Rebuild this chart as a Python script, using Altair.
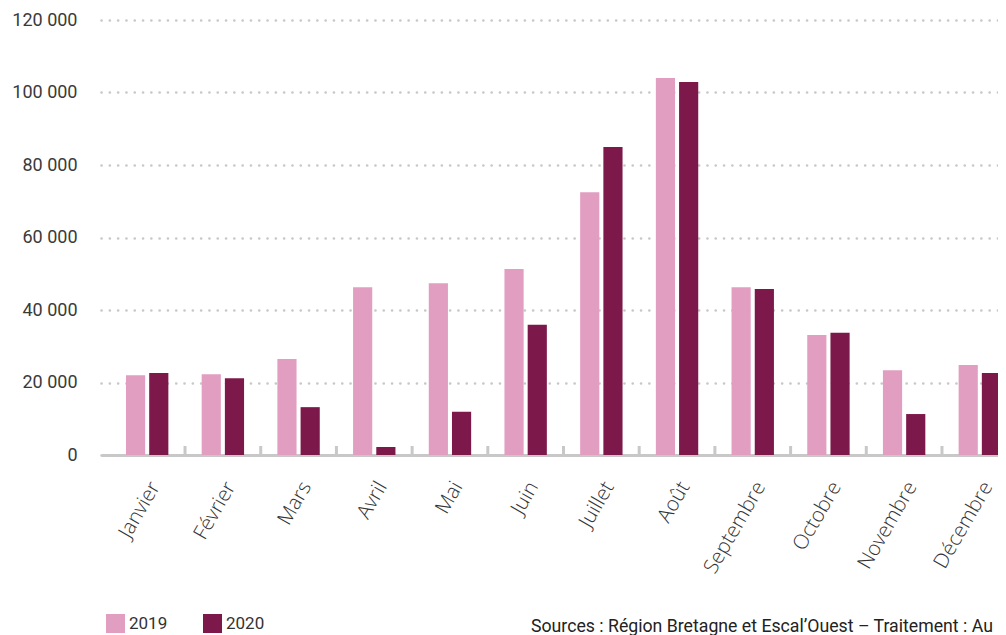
import altair as alt
import pandas as pd

months = ["Janvier", "Février", "Mars", "Avril", "Mai", "Juin", "Juillet",
          "Août", "Septembre", "Octobre", "Novembre", "Décembre"]
v2019 = [22000, 22300, 26500, 46300, 47400, 51300, 72500, 104000, 46300, 33100, 23400, 24800]
v2020 = [22600, 21200, 13200, 2200, 11900, 35900, 85000, 102900, 45800, 33700, 11300, 22600]
years = ["2019", "2020"]
colors = ["#e29ec0", "#7d184a"]
y_ticks = [0, 20000, 40000, 60000, 80000, 100000, 120000]
source_text = "Sources : Région Bretagne et Escal’Ouest – Traitement : Au"

rows = []
for i, m in enumerate(months):
    rows.append({"mois": m, "annee": years[0], "valeur": v2019[i]})
    rows.append({"mois": m, "annee": years[1], "valeur": v2020[i]})
df = pd.DataFrame(rows)
df_months = pd.DataFrame({"mois": months})
df_src = pd.DataFrame({"t": [source_text]})

W, H = 925, 435

x_enc = alt.X(
    "mois:N", sort=months, title=None,
    scale=alt.Scale(paddingInner=0.44, paddingOuter=0.33),
    axis=alt.Axis(
        labelAngle=-60, labelAlign="right", labelBaseline="middle",
        labelOffset=8, labelPadding=28, ticks=False, tickSize=0,
        labelFont="Open Sans", labelFontWeight=300, labelFontSize=20.5,
        labelColor="#333333", domainColor="#c8c8c8", domainWidth=3,
        grid=False,
    ),
)

bars = alt.Chart(df).mark_bar().encode(
    x=x_enc,
    xOffset=alt.XOffset("annee:N", sort=years,
                        scale=alt.Scale(paddingInner=0.174, paddingOuter=0)),
    y=alt.Y(
        "valeur:Q", title=None,
        scale=alt.Scale(domain=[0, 120000], nice=False),
        axis=alt.Axis(
            values=y_ticks, domain=False, ticks=False, tickSize=0,
            labelPadding=24, labelFont="Roboto", labelFontSize=18,
            labelColor="#3a3a3a",
            labelExpr="replace(format(datum.value, ',d'), ',', ' ')",
            grid=True, gridColor="#c8c8c8", gridWidth=2.6,
            gridDash=[0.1, 8.2], gridCap="round",
        ),
    ),
    color=alt.Color(
        "annee:N", sort=years,
        scale=alt.Scale(domain=years, range=colors),
        legend=alt.Legend(
            title=None, orient="none", legendX=5, legendY=594,
            direction="horizontal", symbolType="square", symbolSize=361,
            symbolStrokeWidth=0, padding=0, labelFont="Roboto",
            labelFontSize=17, labelColor="#333333", labelOffset=4,
            columnPadding=35,
        ),
    ),
)

ticks = alt.Chart(df_months).mark_rule(
    color="#c8c8c8", strokeWidth=3, xOffset=37.85
).encode(
    x=alt.X("mois:N", sort=months),
    y=alt.value(H - 9),
    y2=alt.value(H),
)

src = alt.Chart(df_src).mark_text(
    align="left", baseline="middle", font="Roboto", fontSize=17.7,
    color="#222222"
).encode(
    text="t:N",
    x=alt.value(430),
    y=alt.value(607),
)

chart = alt.layer(bars, ticks, src).properties(
    width=W, height=H,
    autosize=alt.AutoSizeParams(type="none"),
    padding={"left": 93, "top": 12, "right": -28, "bottom": 180},
).configure_view(stroke=None)

chart.save("out.html", embed_options={"renderer": "svg", "actions": False})
